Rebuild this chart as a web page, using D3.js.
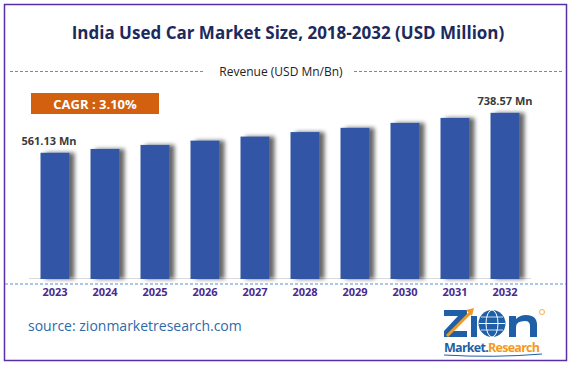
<!DOCTYPE html>
<html lang="en">
<head>
<meta charset="UTF-8">
<title>India Used Car Market Size</title>
<script src="https://cdn.jsdelivr.net/npm/d3@7"></script>
<style>
    body { margin: 0; background: #fff; }
    svg text { font-family: "Open Sans", "Noto Sans", sans-serif; }
</style>
</head>
<body>
<svg width="571" height="367" class="chart"></svg>
<script>
    // chart data
    var years = ["2023", "2024", "2025", "2026", "2027", "2028", "2029", "2030", "2031", "2032"];
    var revenue = [561.13, 578, 596, 615, 633, 653, 672, 694, 716, 738.57];
    var valueLabels = ["561.13 Mn", "", "", "", "", "", "", "", "", "738.57 Mn"];
    var cagrText = "CAGR : 3.10%";

    var svg = d3.select("svg.chart");

    var defs = svg.append("defs");
    var shadow = defs.append("filter").attr("id", "barShadow")
        .attr("x", "-20%").attr("y", "-5%").attr("width", "160%").attr("height", "110%");
    shadow.append("feGaussianBlur").attr("in", "SourceAlpha").attr("stdDeviation", 2.2).attr("result", "blur");
    shadow.append("feOffset").attr("in", "blur").attr("dx", 5).attr("dy", 0).attr("result", "off");
    shadow.append("feComponentTransfer").attr("in", "off").attr("result", "soft")
        .append("feFuncA").attr("type", "linear").attr("slope", 0.6);
    var merge = shadow.append("feMerge");
    merge.append("feMergeNode").attr("in", "soft");
    merge.append("feMergeNode").attr("in", "SourceGraphic");

    // frame
    svg.append("rect")
        .attr("x", 4.5).attr("y", 4.5).attr("width", 562).attr("height", 356)
        .attr("fill", "none").attr("stroke", "#5a2ea6").attr("stroke-width", 1.5);

    // title
    svg.append("text")
        .attr("x", 288).attr("y", 39)
        .attr("text-anchor", "middle")
        .attr("font-size", "17px").attr("font-weight", "bold")
        .attr("fill", "#1c2a5e")
        .text("India Used Car Market Size, 2018-2032 (USD Million)");

    // revenue legend with dashed lines
    svg.append("line").attr("x1", 10).attr("x2", 203).attr("y1", 71.5).attr("y2", 71.5)
        .attr("stroke", "#5b8fd6").attr("stroke-dasharray", "3,2");
    svg.append("line").attr("x1", 354).attr("x2", 563).attr("y1", 71.5).attr("y2", 71.5)
        .attr("stroke", "#5b8fd6").attr("stroke-dasharray", "3,2");
    svg.append("text")
        .attr("x", 281).attr("y", 76)
        .attr("text-anchor", "middle")
        .attr("font-size", "12px").attr("fill", "#222")
        .text("Revenue (USD Mn/Bn)");

    // CAGR box
    svg.append("rect")
        .attr("x", 31).attr("y", 93).attr("width", 128).attr("height", 21)
        .attr("fill", "#d2600f");
    svg.append("text")
        .attr("x", 95).attr("y", 109)
        .attr("text-anchor", "middle")
        .attr("font-size", "13px").attr("font-weight", "bold").attr("fill", "#fff")
        .text(cagrText);

    var xScale = d3.scaleBand().domain(years).range([29, 531]).paddingInner(0.42).paddingOuter(0.23),
        yScale = d3.scaleLinear().domain([0, 800]).range([279, 99]);

    // baseline
    svg.append("line").attr("x1", 29).attr("x2", 531).attr("y1", 278.5).attr("y2", 278.5)
        .attr("stroke", "#d9d9d9").attr("stroke-width", 1.2);

    svg.selectAll(".bar")
        .data(revenue)
        .enter().append("rect")
        .attr("class", "bar")
        .attr("x", function (d, i) { return xScale(years[i]); })
        .attr("y", function (d) { return yScale(d); })
        .attr("width", xScale.bandwidth())
        .attr("height", function (d) { return yScale(0) - yScale(d); })
        .attr("fill", "#3156a5")
        .attr("filter", "url(#barShadow)");

    svg.selectAll(".vlabel")
        .data(revenue)
        .enter().append("text")
        .attr("class", "vlabel")
        .attr("x", function (d, i) { return xScale(years[i]) + xScale.bandwidth() / 2 + (i === 0 ? -6 : 0); })
        .attr("y", function (d) { return yScale(d) - 8; })
        .attr("text-anchor", "middle")
        .attr("font-size", "11px").attr("font-weight", "bold").attr("fill", "#3a3a3a")
        .text(function (d, i) { return valueLabels[i]; });

    // dashed line under the axis
    svg.append("line").attr("x1", 5).attr("x2", 566).attr("y1", 284).attr("y2", 284)
        .attr("stroke", "#5b8fd6").attr("stroke-dasharray", "3,2");

    // x axis labels
    var xAxis = svg.append("g")
        .attr("transform", "translate(0,284)")
        .call(d3.axisBottom(xScale).tickSize(0).tickPadding(4));
    xAxis.select(".domain").remove();
    xAxis.selectAll("text")
        .attr("font-size", "11px").attr("font-weight", "bold")
        .attr("fill", "#4a2a8e")
        .attr("font-family", "\"Open Sans\", sans-serif");

    // source
    svg.append("text")
        .attr("x", 28).attr("y", 331)
        .attr("font-size", "14px").attr("fill", "#2e6aa8")
        .text("source: zionmarketresearch.com");

    // logo (shapes, not text, for the big letters)
    var blue = "#1f5fa8", orange = "#f39a1e";
    var logo = svg.append("g").attr("transform", "translate(444,310)");
    logo.append("path")
        .attr("d", "M0,0 H23 V6 L9,21 H23 V27 H0 V21 L14,6 H0 Z")
        .attr("fill", blue);
    logo.append("path").attr("d", "M3,26 L27,2").attr("stroke", orange).attr("stroke-width", 3).attr("fill", "none");
    logo.append("path").attr("d", "M22,0 L30,-2 L28,6 Z").attr("fill", orange);
    logo.append("rect").attr("x", 27).attr("y", 6).attr("width", 6).attr("height", 21).attr("fill", blue);
    logo.append("circle").attr("cx", 48).attr("cy", 13.5).attr("r", 13.5).attr("fill", blue);
    logo.append("ellipse").attr("cx", 48).attr("cy", 13.5).attr("rx", 6).attr("ry", 13.5)
        .attr("fill", "none").attr("stroke", "#fff").attr("stroke-width", 1);
    logo.append("line").attr("x1", 35).attr("x2", 61).attr("y1", 13.5).attr("y2", 13.5).attr("stroke", "#fff").attr("stroke-width", 1);
    logo.append("line").attr("x1", 37).attr("x2", 59).attr("y1", 7).attr("y2", 7).attr("stroke", "#fff").attr("stroke-width", 0.8);
    logo.append("line").attr("x1", 37).attr("x2", 59).attr("y1", 20).attr("y2", 20).attr("stroke", "#fff").attr("stroke-width", 0.8);
    logo.append("path")
        .attr("d", "M65,6 H72 V9 Q76,5 82,5 Q93,5 93,15 V27 H86 V16 Q86,11 81,11 Q72,11 72,17 V27 H65 Z")
        .attr("fill", blue);
    logo.append("circle").attr("cx", 98).attr("cy", 2).attr("r", 2.5).attr("fill", "none").attr("stroke", orange).attr("stroke-width", 0.8);
    var mr = logo.append("text").attr("x", 0).attr("y", 42)
        .attr("font-size", "12.5px").attr("font-weight", "bold")
        .attr("font-family", "\"Liberation Sans\", sans-serif")
        .attr("textLength", 96);
    mr.append("tspan").attr("fill", blue).text("Market.");
    mr.append("tspan").attr("fill", orange).text("Research");
    logo.append("path").attr("d", "M0,45 Q50,48 98,44").attr("stroke", blue).attr("fill", "none").attr("stroke-width", 1);
</script>
</body>
</html>
